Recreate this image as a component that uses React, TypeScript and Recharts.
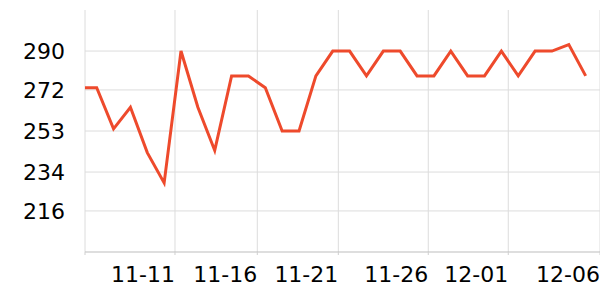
import React from 'react';
import { LineChart, Line, XAxis, YAxis, CartesianGrid } from 'recharts';

const dates = [
  '11-05', '11-06', '11-07', '11-08', '11-09', '11-10', '11-11', '11-12', '11-13', '11-14',
  '11-15', '11-16', '11-17', '11-18', '11-19', '11-20', '11-21', '11-22', '11-23', '11-24',
  '11-25', '11-26', '11-27', '11-28', '11-29', '11-30', '12-01', '12-02', '12-03', '12-04', '12-05',
];

const values = [
  273, 273, 254, 264, 243, 229, 290, 264, 244, 278.5,
  278.5, 273, 253, 253, 278.5, 290, 290, 278.5, 290, 290,
  278.5, 278.5, 290, 278.5, 278.5, 290, 278.5, 290, 290, 293, 278.5,
];

const xTickPos = [0.306, 5.643, 10.524, 15.33, 20.665, 25.41, 30.85];
const xTickLabels = ['', '11-11', '11-16', '11-21', '11-26', '12-01', '12-06'];
const xDomain = [0.306, 30.85];

const yTicks = [216, 234, 253, 272, 290];
const yDomain = [197, 309];

const data = dates.map((d, i) => ({ i, date: d, value: values[i] }));

const FONT = '"DejaVu Sans", sans-serif';

export default function App() {
  return (
    <div style={{ position: 'absolute', left: 0, top: 0 }}>
      <LineChart
        width={600}
        height={300}
        data={data}
        margin={{ top: 10, right: 0, bottom: 0, left: 0 }}
      >
        <CartesianGrid
          stroke="#dcdcdc"
          strokeWidth={1}
          horizontalValues={yTicks}
          verticalValues={xTickPos}
        />
        <XAxis
          dataKey="i"
          type="number"
          domain={xDomain}
          allowDataOverflow
          ticks={xTickPos}
          interval={0}
          height={48}
          tickSize={3}
          tickMargin={11}
          axisLine={{ stroke: '#bdbdbd' }}
          tickLine={{ stroke: '#cfcfcf' }}
          tickFormatter={(v: number) => xTickLabels[xTickPos.indexOf(v)] ?? ''}
          tick={{ textAnchor: 'end', fontSize: 22, fill: '#000', fontFamily: FONT }}
        />
        <YAxis
          type="number"
          domain={yDomain}
          allowDataOverflow
          ticks={yTicks}
          interval={0}
          width={85}
          axisLine={false}
          tickLine={false}
          tickSize={0}
          tickMargin={20}
          tick={{ fontSize: 22, fill: '#000', fontFamily: FONT }}
        />
        <Line
          type="linear"
          dataKey="value"
          stroke="#ee4a2c"
          strokeWidth={3}
          dot={false}
          activeDot={false}
          isAnimationActive={false}
        />
      </LineChart>
    </div>
  );
}
